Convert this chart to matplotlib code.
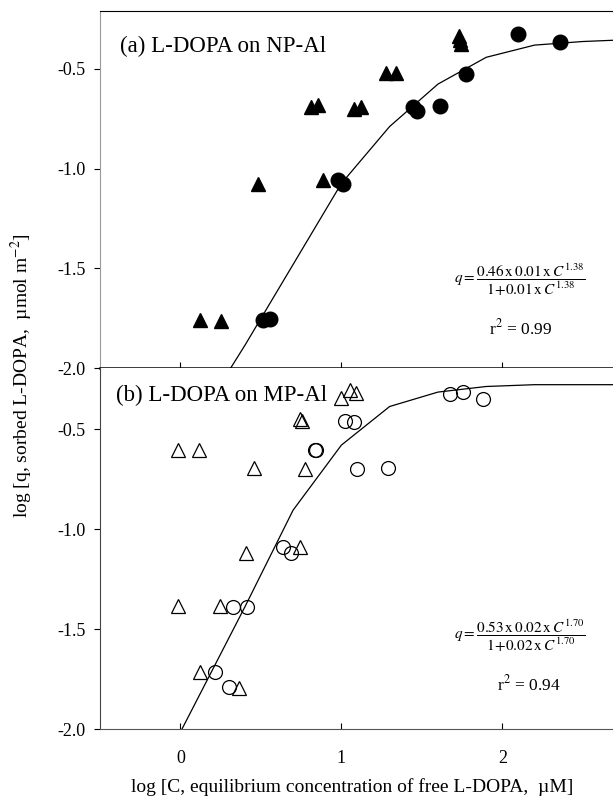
import matplotlib
matplotlib.use("Agg")
import matplotlib.pyplot as plt

plt.rcParams['font.family'] = ['Liberation Serif', 'DejaVu Serif']
plt.rcParams['mathtext.fontset'] = 'stix'

# ---- data ----
# panel (a) NP-Al : filled triangles and filled circles
tri_a_x = [0.124, 0.253, 0.485, 0.813, 0.855, 0.886, 1.077, 1.124, 1.280, 1.342, 1.730, 1.740, 1.745]
tri_a_y = [-1.758, -1.763, -1.075, -0.691, -0.683, -1.058, -0.704, -0.691, -0.524, -0.524, -0.335, -0.355, -0.375]
cir_a_x = [0.512, 0.554, 0.979, 1.010, 1.446, 1.467, 1.612, 1.772, 2.099, 2.358]
cir_a_y = [-1.758, -1.755, -1.058, -1.078, -0.694, -0.711, -0.688, -0.529, -0.329, -0.366]
fit_a_x = [0.1, 0.4, 0.7, 1.0, 1.3, 1.6, 1.9, 2.2, 2.5, 2.8]
fit_a_y = [-2.27, -1.885, -1.48, -1.075, -0.79, -0.578, -0.444, -0.383, -0.365, -0.355]

# panel (b) MP-Al : open triangles and open circles
tri_b_x = [-0.017, 0.118, 0.456, 0.774, 0.745, 0.755, 1.000, 1.052, 1.093, 0.409, 0.741, -0.017, 0.243, 0.122, 0.367]
tri_b_y = [-0.6035, -0.6035, -0.692, -0.6985, -0.45, -0.46, -0.345, -0.3035, -0.32, -1.12, -1.09, -1.3835, -1.3835, -1.712, -1.795]
cir_b_x = [1.674, 1.753, 1.881, 1.020, 1.077, 0.834, 0.844, 1.097, 1.290, 0.637, 0.689, 0.326, 0.413, 0.212, 0.299]
cir_b_y = [-0.325, -0.315, -0.350, -0.4585, -0.462, -0.6035, -0.6035, -0.700, -0.695, -1.087, -1.120, -1.390, -1.390, -1.712, -1.787]
fit_b_x = [-0.1, 0.4, 0.7, 1.0, 1.3, 1.6, 1.9, 2.2, 2.5, 2.8]
fit_b_y = [-2.17, -1.389, -0.905, -0.58, -0.387, -0.315, -0.287, -0.278, -0.278, -0.278]

x_ticks = [0, 1, 2]
x_ticklabels = ['0', '1', '2']
y_ticks = [-2.0, -1.5, -1.0, -0.5]
y_ticklabels = ['-2.0', '-1.5', '-1.0', '-0.5']

eq_a = r'$q=\dfrac{0.46\,\mathrm{x}\,0.01\,\mathrm{x}\,C^{1.38}}{1\!+\!0.01\,\mathrm{x}\,C^{1.38}}$'
eq_b = r'$q=\dfrac{0.53\,\mathrm{x}\,0.02\,\mathrm{x}\,C^{1.70}}{1\!+\!0.02\,\mathrm{x}\,C^{1.70}}$'
r2_a = r'r$^2$ = 0.99'
r2_b = r'r$^2$ = 0.94'
title_a = '(a) L-DOPA on NP-Al'
title_b = '(b) L-DOPA on MP-Al'
xlabel = 'log [C, equilibrium concentration of free L-DOPA,  \u00b5M]'
ylabel = 'log [q, sorbed L-DOPA,  \u00b5mol m$^{-2}$]'

fig = plt.figure(figsize=(6.13, 8.0), dpi=100)
ax_a = fig.add_axes([0.1631, 0.5394, 0.8369, 0.4472])
ax_b = fig.add_axes([0.1631, 0.0884, 0.8369, 0.4510])

for ax in (ax_a, ax_b):
    ax.set_xlim(-0.5, 2.688)
    ax.set_xticks(x_ticks)
    ax.set_yticks(y_ticks)
    ax.set_yticklabels(y_ticklabels)
    ax.spines['right'].set_visible(False)
    ax.tick_params(axis='y', direction='out', length=4.5, width=0.8, pad=6, labelsize=13)

ax_a.set_ylim(-2.0, -0.211)
ax_b.set_ylim(-2.0, -0.197)

# panel a
ax_a.plot(fit_a_x, fit_a_y, color='black', lw=0.9, zorder=2)
ax_a.plot(tri_a_x, tri_a_y, ls='none', marker='^', ms=9.5, mfc='black', mec='black', zorder=3)
ax_a.plot(cir_a_x, cir_a_y, ls='none', marker='o', ms=10.5, mfc='black', mec='black', zorder=3)
ax_a.set_xticklabels([])
ax_a.tick_params(axis='x', direction='inout', length=8, width=0.8, labelbottom=False)
ax_a.spines['top'].set_color('black')
ax_a.spines['left'].set_color('#9a9a9a')
ax_a.spines['bottom'].set_color('black')
ax_a.spines['bottom'].set_linewidth(1.8)
ax_a.spines['bottom'].set_zorder(5)
ax_a.text(-0.373, -0.4175, title_a, fontsize=16.5, va='baseline', ha='left')
ax_a.text(2.11, -1.5575, eq_a, fontsize=11, ha='center', va='center')
ax_a.text(2.116, -1.7975, r2_a, fontsize=12.5, ha='center', va='center')

# panel b
ax_b.plot(fit_b_x, fit_b_y, color='black', lw=0.9, zorder=2)
ax_b.plot(tri_b_x, tri_b_y, ls='none', marker='^', ms=10, mfc='none', mec='black', mew=0.9, zorder=3)
ax_b.plot(cir_b_x, cir_b_y, ls='none', marker='o', ms=10, mfc='none', mec='black', mew=0.9, zorder=3)
ax_b.set_xticklabels(x_ticklabels)
ax_b.tick_params(axis='x', direction='in', length=4, width=0.8, pad=15, labelsize=13)
ax_b.spines['top'].set_visible(False)
ax_b.spines['left'].set_color('#444444')
ax_b.spines['bottom'].set_color('#555555')
ax_b.text(-0.398, -0.362, title_b, fontsize=16.5, va='baseline', ha='left')
ax_b.text(2.11, -1.5335, eq_b, fontsize=11, ha='center', va='center')
ax_b.text(2.163, -1.778, r2_b, fontsize=12.5, ha='center', va='center')

fig.text(22 / 613, 1 - 376 / 800, ylabel, rotation=90, ha='center', va='center', fontsize=14)
fig.text(352 / 613, 1 - 787 / 800, xlabel, ha='center', va='center', fontsize=14)

fig.savefig('out.png', dpi=100)
